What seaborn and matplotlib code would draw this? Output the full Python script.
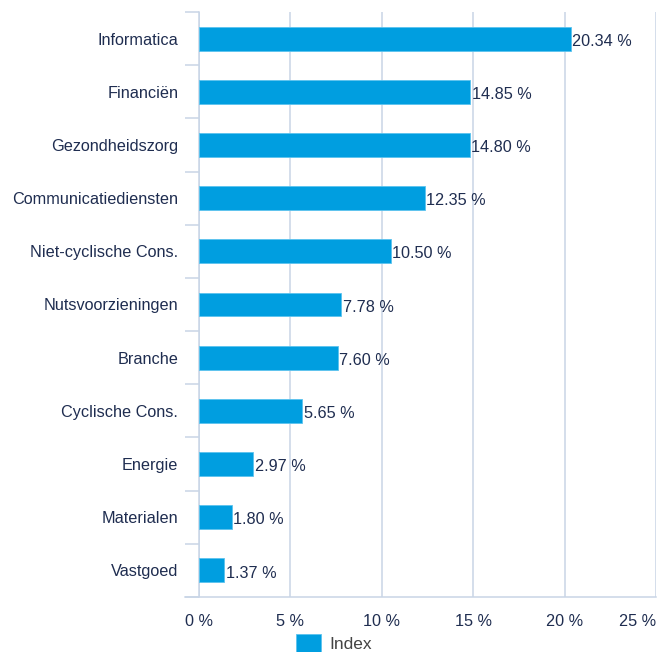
import numpy as np
import pandas as pd
import matplotlib.pyplot as plt
import seaborn as sns

categories = ["Informatica", "Financiën", "Gezondheidszorg", "Communicatiediensten",
              "Niet-cyclische Cons.", "Nutsvoorzieningen", "Branche", "Cyclische Cons.",
              "Energie", "Materialen", "Vastgoed"]
values = [20.34, 14.85, 14.80, 12.35, 10.50, 7.78, 7.60, 5.65, 2.97, 1.80, 1.37]
series_name = "Index"
x_ticks = [0, 5, 10, 15, 20, 25]

bar_color = "#009ee0"
text_color = "#1f2d50"
line_color = "#c9d5e6"
fs = 11.7

df = pd.DataFrame({"Sector": categories, "Gewicht": values, "Reeks": series_name})

sns.set_style("white")
plt.rcParams["font.family"] = ["Liberation Sans", "DejaVu Sans"]

fig = plt.figure(figsize=(6.68, 6.52), dpi=100)
ax = fig.add_axes([0.298, 0.0844, 0.684, 0.8972])

sns.barplot(data=df, x="Gewicht", y="Sector", hue="Reeks", palette=[bar_color],
            saturation=1, width=0.45, edgecolor="#5cc3ee", linewidth=0.6,
            ax=ax, zorder=3)

ax.set_xlim(0, 25)
ax.set_xticks(x_ticks)
ax.set_xticklabels([f"{t} %" for t in x_ticks], color=text_color, fontsize=fs)
ax.get_xticklabels()[-1].set_horizontalalignment("right")
ax.xaxis.grid(True, color=line_color, linewidth=1.1, zorder=0)
ax.yaxis.grid(False)
ax.set_xlabel("")
ax.set_ylabel("")

# category boundaries as tick marks, labels at the centres
n = len(categories)
ax.set_yticks(np.arange(n))
ax.set_yticklabels(categories, color=text_color, fontsize=fs)
ax.set_yticks(np.arange(n + 1) - 0.5, minor=True)
ax.tick_params(axis="y", which="major", left=False, length=0, pad=15)
ax.tick_params(axis="y", which="minor", left=True, length=10, width=1.1,
               color=line_color)
ax.tick_params(axis="x", bottom=False, length=0, pad=12)

for side in ["top", "right"]:
    ax.spines[side].set_visible(False)
for side in ["left", "bottom"]:
    ax.spines[side].set_color(line_color)
    ax.spines[side].set_linewidth(1.1)
ax.spines["bottom"].set_bounds(-0.77, 25)

for i, v in enumerate(values):
    ax.text(v + 0.08, i + 0.05, f"{v:.2f} %", va="center", ha="left",
            color=text_color, fontsize=fs, zorder=4)

handles, labels = ax.get_legend_handles_labels()
ax.get_legend().remove()
fig.legend(handles, labels, loc="lower center", bbox_to_anchor=(0.5, -0.025),
           frameon=False, fontsize=12.5, handlelength=1.45, handleheight=1.3,
           handletextpad=0.5, labelcolor="#444444")

fig.savefig("out.png", dpi=100)
